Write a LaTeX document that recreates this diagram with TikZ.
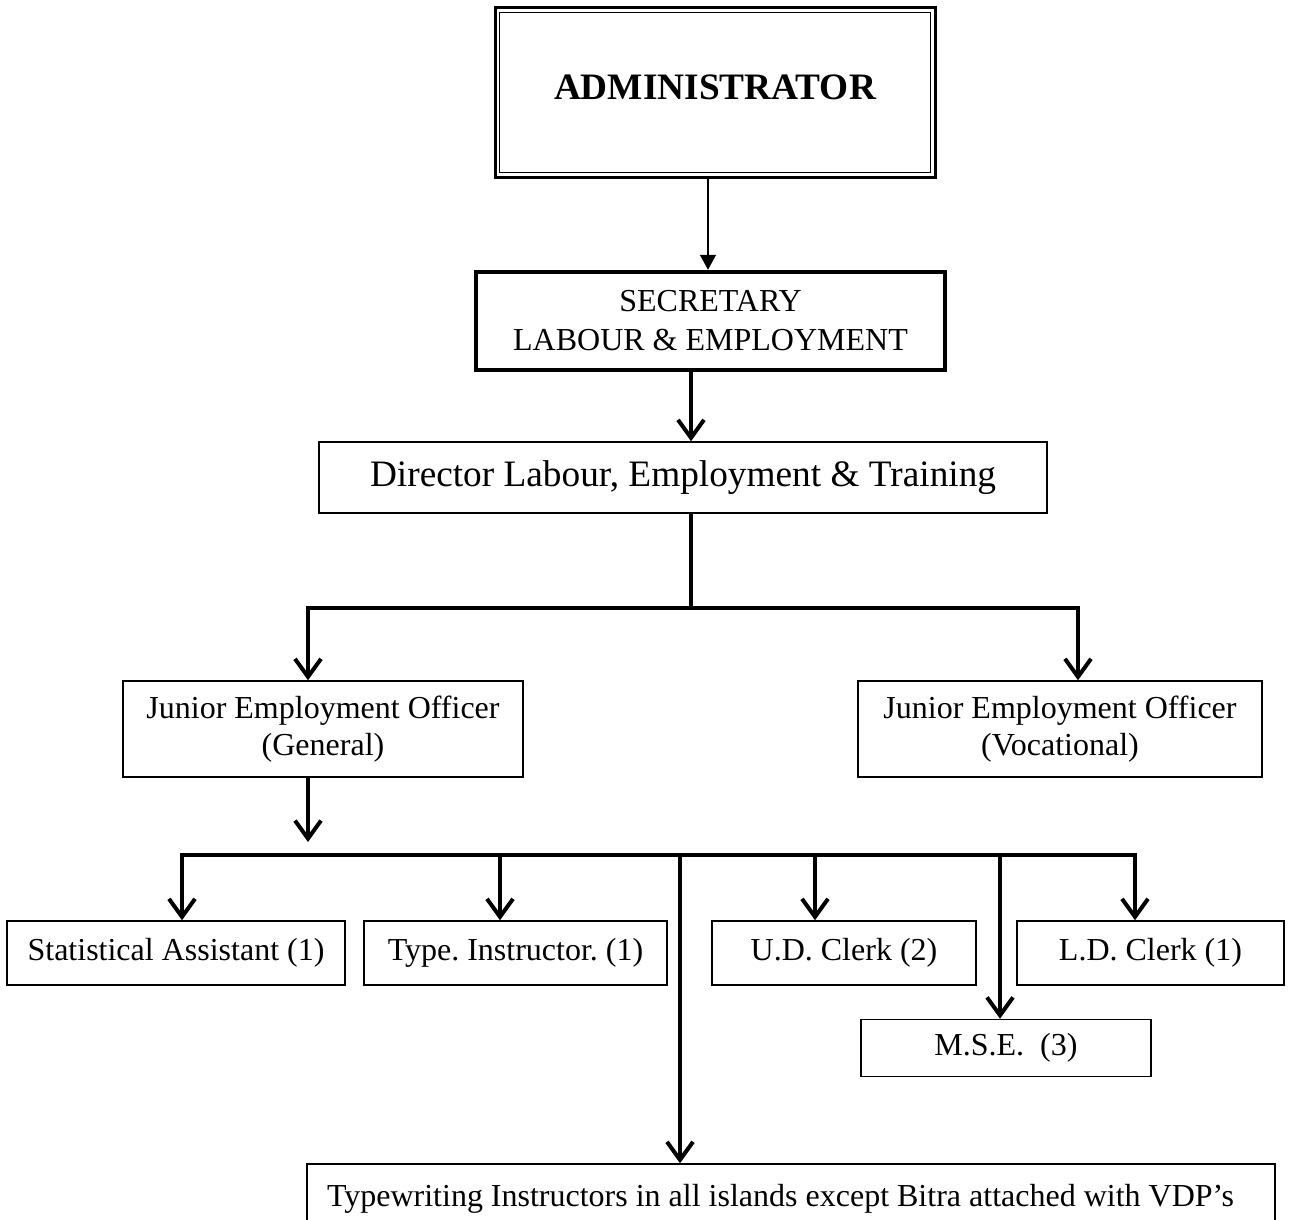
\documentclass[tikz,border=0pt]{standalone}
\usepackage{fontspec}
\setmainfont{Liberation Serif}
\usetikzlibrary{arrows.meta,calc}
\frenchspacing
\begin{document}
\begin{tikzpicture}[x=1pt,y=-1pt,
  box/.style={draw,line width=1.5pt,inner sep=0pt,align=center,
    font=\fontsize{32}{37}\selectfont},
  conn/.style={line width=4pt,-{Straight Barb[length=18pt,width=26pt]}},
  plainconn/.style={line width=4pt},
  thinconn/.style={line width=1.5pt,-{Triangle[length=15pt,width=16pt]}}]
\useasboundingbox (0,0) rectangle (1293,1220);
% nodes
\node[draw,line width=3pt,minimum width=440pt,minimum height=169pt,
  text depth=10pt,font=\fontsize{37.3}{44}\selectfont\bfseries] (admin) at (715,92.5) {ADMINISTRATOR};
\draw[line width=1.5pt] ($(admin.north west)+(6,6)$) rectangle ($(admin.south east)+(-6,-6)$);
\node[box,line width=4.5pt,minimum width=469pt,minimum height=98pt,
  font=\fontsize{32}{39}\selectfont] (sec) at (710.5,321) {SECRETARY\\LABOUR \& EMPLOYMENT};
\node[box,minimum width=728pt,minimum height=71pt,font=\fontsize{37.3}{44}\selectfont] (dir) at (683,477.5) {Director Labour, Employment \& Training};
\node[box,minimum width=400pt,minimum height=96pt] (jeog) at (323,729) {Junior Employment Officer\\(General)};
\node[box,minimum width=404pt,minimum height=96pt] (jeov) at (1060,729) {Junior Employment Officer\\(Vocational)};
\node[box,minimum width=338pt,minimum height=64pt] (stat) at (176,953) {Statistical Assistant (1)};
\node[box,minimum width=303pt,minimum height=64pt] (type) at (515.5,953) {Type. Instructor. (1)};
\node[box,minimum width=264pt,minimum height=64pt] (ud) at (844,953) {U.D. Clerk (2)};
\node[box,minimum width=267pt,minimum height=64pt] (ld) at (1150.5,953) {L.D. Clerk (1)};
\node[box,minimum width=290pt,minimum height=57pt] (mse) at (1006,1048) {M.S.E.\ \ (3)};
\node[box,minimum width=968pt,minimum height=70pt] (bot) at (791,1199) {\makebox[928pt][l]{Typewriting Instructors in all islands except Bitra attached with VDP’s}};
% helper coordinates
\coordinate (xa) at (691,608);
\coordinate (xl) at (308,608);
\coordinate (xr) at (1078,608);
\coordinate (jtip) at (308,842);
\coordinate (b2) at (680,855);
\coordinate (x182) at (182,855);
\coordinate (x500) at (500,855);
\coordinate (x815) at (815,855);
\coordinate (x1000) at (1000,855);
\coordinate (x1135) at (1135,855);
% connectors
\draw[thinconn] (admin.south -| 708,0) -- (sec.north -| 708,0);
\draw[conn] (sec.south -| xa) -- (dir.north -| xa);
\draw[plainconn] (dir.south -| xa) -- (xa);
\draw[conn] (xa) -| (jeog.north -| xl);
\draw[conn] (xa) -| (jeov.north -| xr);
\draw[conn] (jeog.south -| jtip) -- (jtip);
\draw[conn] (b2) -| (stat.north -| x182);
\draw[conn] (b2) -| (ld.north -| x1135);
\draw[conn] ($(x500)+(0,-2)$) -- (type.north -| x500);
\draw[conn] ($(x815)+(0,-2)$) -- (ud.north -| x815);
\draw[conn] ($(x1000)+(0,-2)$) -- (mse.north -| x1000);
\draw[conn] ($(b2)+(0,-2)$) -- (bot.north -| b2);
\end{tikzpicture}
\end{document}
